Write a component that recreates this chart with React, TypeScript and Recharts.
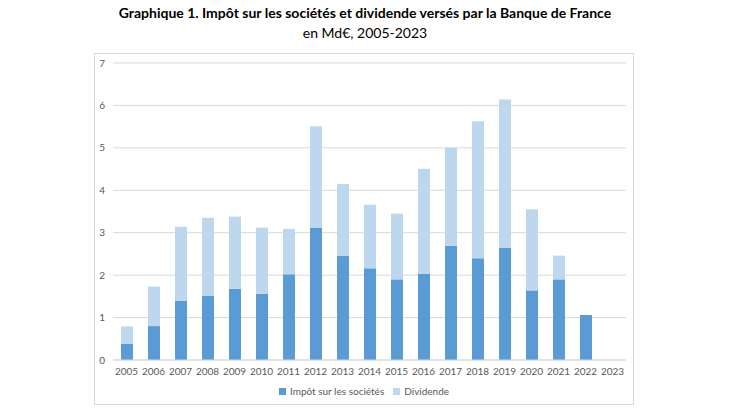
import React from 'react';
import { BarChart, Bar, XAxis, YAxis, CartesianGrid } from 'recharts';

const years = ['2005','2006','2007','2008','2009','2010','2011','2012','2013','2014','2015','2016','2017','2018','2019','2020','2021','2022','2023'];
const impot = [0.38,0.80,1.39,1.51,1.68,1.56,2.02,3.12,2.45,2.16,1.90,2.03,2.69,2.40,2.64,1.64,1.90,1.06,0];
const dividende = [0.41,0.93,1.75,1.84,1.70,1.56,1.07,2.39,1.70,1.50,1.55,2.48,2.31,3.23,3.50,1.91,0.56,0,0];
const yTicks = [0,1,2,3,4,5,6,7];

const seriesNames = { impot: 'Impôt sur les sociétés', dividende: 'Dividende' };
const colors = { impot: '#5B9BD5', dividende: '#BDD7EE' };

const data = years.map((y, i) => ({ year: y, impot: impot[i], dividende: dividende[i] }));

const FONT = 'Lato, "Open Sans", sans-serif';

export default function App() {
  return (
    <div style={{ position: 'absolute', left: 0, top: 0, width: 730, height: 410, background: '#fff', fontFamily: FONT }}>
      <div style={{ position: 'absolute', left: 0, top: 4, width: 730, textAlign: 'center', fontWeight: 700, fontSize: 14, color: '#000' }}>
        Graphique 1. Impôt sur les sociétés et dividende versés par la Banque de France
      </div>
      <div style={{ position: 'absolute', left: 0, top: 24, width: 730, textAlign: 'center', fontSize: 14, color: '#000' }}>
        en Md€, 2005-2023
      </div>
      <div style={{ position: 'absolute', left: 94, top: 53, width: 538, height: 350, border: '1px solid #D9D9D9' }} />
      <div style={{ position: 'absolute', left: 0, top: 0 }}>
        <BarChart width={730} height={410} data={data} margin={{ top: 63, right: 104, bottom: 20, left: 83 }} barSize={12}>
          <CartesianGrid vertical={false} stroke="#D9D9D9" />
          <XAxis dataKey="year" height={30} tickLine={false} axisLine={{ stroke: '#D9D9D9' }} tick={{ fill: '#595959', fontSize: 10, fontFamily: FONT }} interval={0} />
          <YAxis width={30} domain={[0, 7]} ticks={yTicks} tickLine={false} axisLine={false} tick={{ fill: '#595959', fontSize: 10, fontFamily: FONT }} />
          <Bar dataKey="impot" name={seriesNames.impot} stackId="a" fill={colors.impot} isAnimationActive={false} />
          <Bar dataKey="dividende" name={seriesNames.dividende} stackId="a" fill={colors.dividende} isAnimationActive={false} />
        </BarChart>
      </div>
      <div style={{ position: 'absolute', left: 0, top: 385, width: 730, display: 'flex', justifyContent: 'center', fontSize: 10, color: '#595959' }}>
        <div style={{ display: 'flex', alignItems: 'center', marginLeft: -2 }}>
          <span style={{ width: 7, height: 7, background: colors.impot, display: 'inline-block', marginRight: 4 }} />
          <span>{seriesNames.impot}</span>
          <span style={{ width: 7, height: 7, background: colors.dividende, display: 'inline-block', marginLeft: 9, marginRight: 4 }} />
          <span>{seriesNames.dividende}</span>
        </div>
      </div>
    </div>
  );
}
